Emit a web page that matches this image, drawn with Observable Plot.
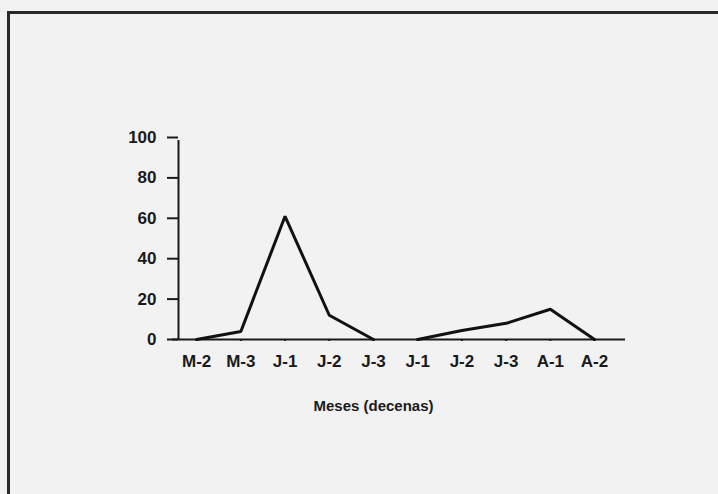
<!DOCTYPE html>
<html>
<head>
<meta charset="utf-8">
<script src="https://cdn.jsdelivr.net/npm/d3@7"></script>
<script src="https://cdn.jsdelivr.net/npm/@observablehq/plot@0.6"></script>
<style>
  html, body { margin: 0; padding: 0; width: 718px; height: 494px; overflow: hidden; background: #f2f2f2; }
  #frame { position: absolute; left: 7px; top: 11px; width: 720px; height: 500px;
           border-top: 3px solid #2a2a2a; border-left: 3px solid #2a2a2a; box-sizing: border-box; }
  #chart { position: absolute; left: 0; top: 0; }
</style>
</head>
<body>
<div id="frame"></div>
<div id="chart"></div>
<script>
const labels = ["M-2", "M-3", "J-1", "J-2", "J-3", "J-1", "J-2", "J-3", "A-1", "A-2"];
const values = [0, 4, 61, 12, 0, 0, 4.5, 8, 15, 0];
const segments = ["a", "a", "a", "a", "a", "b", "b", "b", "b", "b"];
const yTicks = [0, 20, 40, 60, 80, 100];
const xTitle = "Meses (decenas)";

const idx = labels.map((_, i) => i);
const data = labels.map((l, i) => ({ i, label: l, value: values[i], seg: segments[i] }));
const xDomain = [-0.41, 9.7];

const chart = Plot.plot({
  width: 718,
  height: 494,
  marginLeft: 178,
  marginRight: 93,
  marginTop: 137,
  marginBottom: 155,
  style: { background: "transparent", fontFamily: "'Liberation Sans', Arial, sans-serif", fontSize: "17px", color: "#1a1a1a" },
  x: { domain: xDomain, label: null },
  y: { domain: [0, 100], label: null },
  marks: [
    Plot.axisY({ ticks: yTicks, tickSize: 11, tickPadding: 11, strokeWidth: 2, label: null, fontWeight: "bold", fontSize: 17 }),
    Plot.axisX({ ticks: idx, tickFormat: i => labels[i], tickSize: 2, tickPadding: 13, strokeWidth: 2, label: null, fontWeight: "bold", fontSize: 17, style: "letter-spacing: 1.5px" }),
    Plot.ruleX([xDomain[0]], { y1: 0, y2: 100, stroke: "#1a1a1a", strokeWidth: 2, insetBottom: -3 }),
    Plot.ruleY([0], { stroke: "#1a1a1a", strokeWidth: 2, insetLeft: -6 }),
    Plot.line(data, { x: "i", y: "value", z: "seg", stroke: "#111", strokeWidth: 3, strokeLinejoin: "miter" }),
    Plot.text([xTitle], { x: 4, y: 0, text: d => d, dy: 67, fontSize: 15, fontWeight: "bold", fill: "#1a1a1a" })
  ]
});
document.getElementById("chart").appendChild(chart);
</script>
</body>
</html>
